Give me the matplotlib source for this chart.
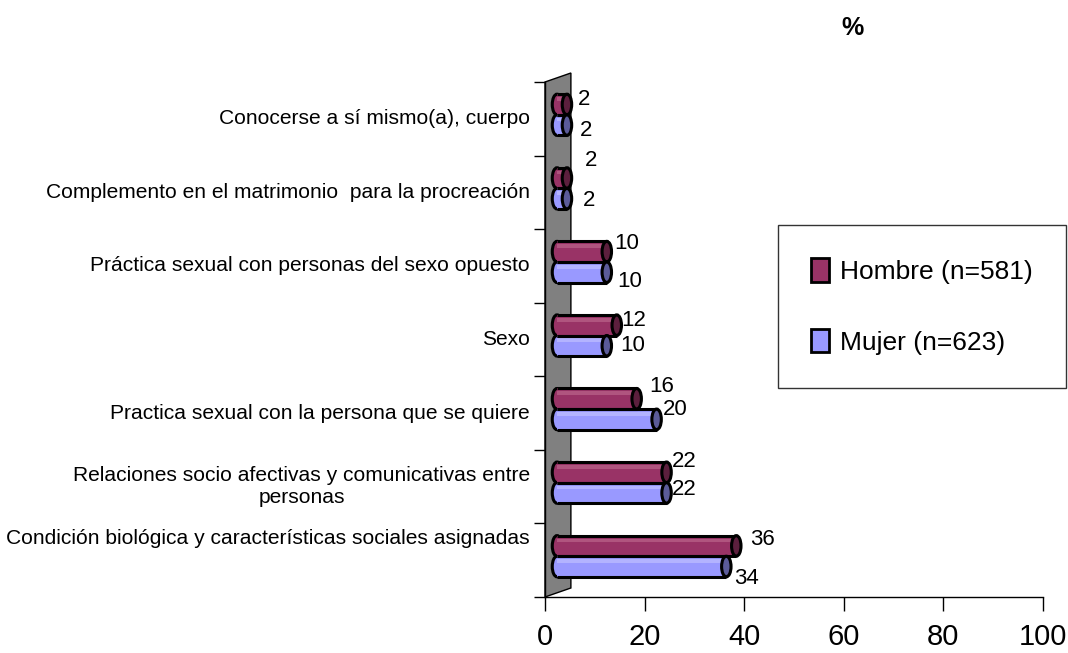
import matplotlib
matplotlib.use("Agg")
import matplotlib.pyplot as plt
from matplotlib.patches import Ellipse, Rectangle, Polygon, Patch
from matplotlib.transforms import ScaledTranslation

plt.rcParams['font.family'] = ['Liberation Sans', 'DejaVu Sans']

# categories from top to bottom
categorias = [
    "Conocerse a sí mismo(a), cuerpo",
    "Complemento en el matrimonio  para la procreación",
    "Práctica sexual con personas del sexo opuesto",
    "Sexo",
    "Practica sexual con la persona que se quiere",
    "Relaciones socio afectivas y comunicativas entre\npersonas",
    "Condición biológica y características sociales asignadas",
]
hombre = [2, 2, 10, 12, 16, 22, 36]
mujer = [2, 2, 10, 10, 20, 22, 34]
series_labels = ["Hombre (n=581)", "Mujer (n=623)"]
xticks = [0, 20, 40, 60, 80, 100]

col_h, cap_h, hi_h = "#993366", "#5c1f3d", "#b0557f"
col_m, cap_m, hi_m = "#9999ff", "#5b5b99", "#b3b3ff"

# label offsets (px) relative to the end of each bar, tuned to the picture
off_h = [(11, -5), (18, -18), (7, -8), (4, -5), (13, -12), (5, -11), (14, -6)]
off_m = [(13, 5), (16, 2), (10, 9), (13, 0), (6, -10), (5, -3), (8, 12)]

fig = plt.figure(figsize=(10.68, 6.53), dpi=100)
ax = fig.add_axes([545 / 1068, 1 - 597 / 653, 498 / 1068, 515 / 653])
ax.set_xlim(0, 100)
ax.set_ylim(len(categorias) - 0.5, -0.5)

# back wall (grey 3d wall)
wall = Polygon([(0, 1), (0.052, 1.0175), (0.052, 0.0175), (0, 0)], closed=True,
               transform=ax.transAxes, facecolor="#808080", edgecolor="black",
               lw=1, zorder=1, clip_on=False)
ax.add_patch(wall)

# bars shifted a bit to the right and up for the 3d look
bar_tr = ax.transData + ScaledTranslation(12 / 100, 4 / 100, fig.dpi_scale_trans)
h = 0.28
capw = 1.9


def cylinder(v, y, col, cap, hi):
    ax.add_patch(Ellipse((0, y), capw, h, facecolor=col, edgecolor="black", lw=2.2,
                         transform=bar_tr, zorder=3))
    ax.add_patch(Rectangle((0, y - h / 2), v, h, facecolor=col, edgecolor="none",
                           transform=bar_tr, zorder=4))
    ax.add_patch(Rectangle((0, y - h / 2 + 0.04), v, 0.05, facecolor=hi,
                           edgecolor="none", transform=bar_tr, zorder=4))
    ax.plot([0, v], [y - h / 2, y - h / 2], color="black", lw=2.2, transform=bar_tr,
            zorder=5, solid_capstyle="butt")
    ax.plot([0, v], [y + h / 2, y + h / 2], color="black", lw=2.2, transform=bar_tr,
            zorder=5, solid_capstyle="butt")
    ax.add_patch(Ellipse((v, y), capw, h, facecolor=cap, edgecolor="black", lw=2.2,
                         transform=bar_tr, zorder=6))


for i in range(len(categorias)):
    cylinder(hombre[i], i - h / 2, col_h, cap_h, hi_h)
    cylinder(mujer[i], i + h / 2, col_m, cap_m, hi_m)
    ax.annotate(str(hombre[i]), xy=(hombre[i], i - h / 2), xycoords=bar_tr,
                xytext=(off_h[i][0], -off_h[i][1]), textcoords="offset pixels",
                ha="left", va="center", fontsize=16)
    ax.annotate(str(mujer[i]), xy=(mujer[i], i + h / 2), xycoords=bar_tr,
                xytext=(off_m[i][0], -off_m[i][1]), textcoords="offset pixels",
                ha="left", va="center", fontsize=16)

# category labels
ytr = ax.get_yaxis_transform()
for i, c in enumerate(categorias):
    tr = ytr
    if i == len(categorias) - 1:
        tr = ytr + ScaledTranslation(0, 22 / 100, fig.dpi_scale_trans)
    ax.text(-0.03, i, c, transform=tr, ha="right", va="center",
            multialignment="center", fontsize=15.1)

ax.set_yticks([i - 0.5 for i in range(len(categorias) + 1)])
ax.set_yticklabels([])
ax.tick_params(axis="y", length=8, width=1, direction="out")
ax.set_xticks(xticks)
ax.set_xticklabels([str(t) for t in xticks], fontsize=21)
ax.tick_params(axis="x", length=10, width=1, direction="out", pad=9)

for s in ["top", "right"]:
    ax.spines[s].set_visible(False)
ax.spines["left"].set_linewidth(1)
ax.spines["bottom"].set_linewidth(1)

fig.text(853 / 1068, 1 - 28 / 653, "%", ha="center", va="center",
         fontsize=18, fontweight="bold")

handles = [Patch(facecolor=col_h, edgecolor="black", lw=2),
           Patch(facecolor=col_m, edgecolor="black", lw=2)]
leg = fig.legend(handles, series_labels, loc="upper left",
                 bbox_to_anchor=(778 / 1068, 1 - 225 / 653), fontsize=19,
                 frameon=True, fancybox=False, shadow=False, borderpad=1.25,
                 handlelength=0.7, handleheight=1.0, handletextpad=0.4,
                 labelspacing=1.7, borderaxespad=0)
leg.get_frame().set_edgecolor("black")
leg.get_frame().set_linewidth(1)

fig.savefig("out.png", dpi=100)
